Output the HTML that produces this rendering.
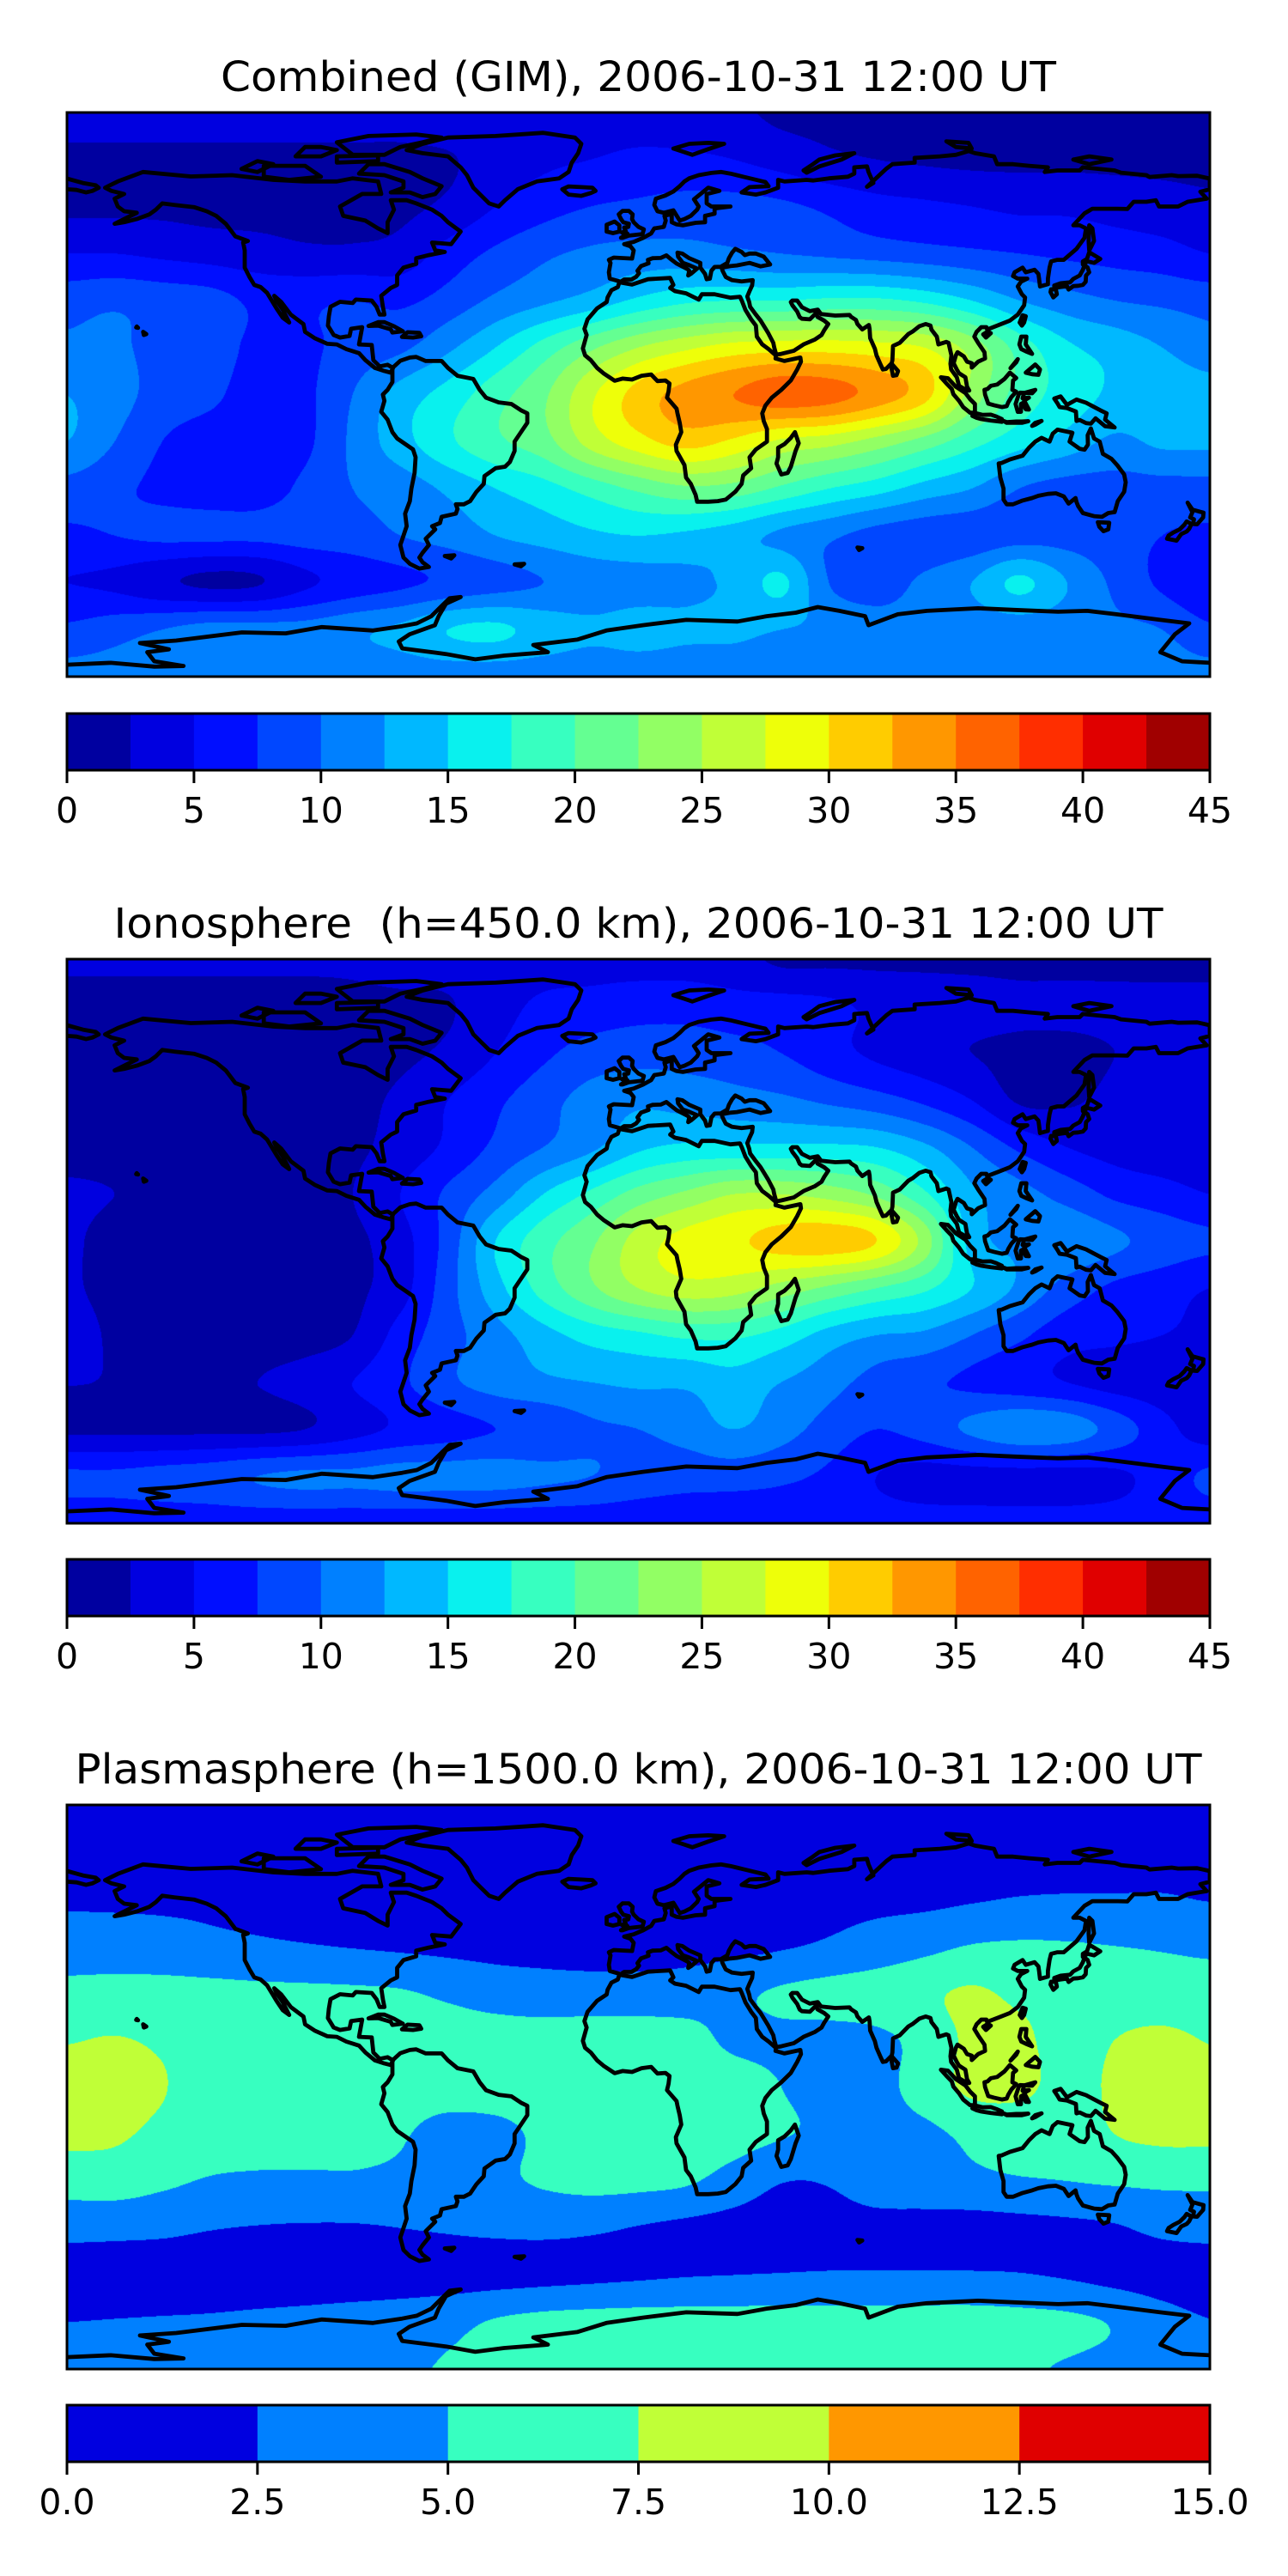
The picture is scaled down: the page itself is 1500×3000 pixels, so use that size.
<!DOCTYPE html>
<html><head><meta charset="utf-8">
<style>
html,body{margin:0;padding:0;background:#fff;}
#wrap{position:relative;width:1500px;height:3000px;overflow:hidden;background:#fff;}
canvas{position:absolute;left:78px;}
svg{position:absolute;left:0;top:0;}
</style></head>
<body>
<div id="wrap">
<canvas id="c0" width="1331" height="657" style="top:131px"></canvas>
<canvas id="c1" width="1331" height="657" style="top:1117px"></canvas>
<canvas id="c2" width="1331" height="657" style="top:2102px"></canvas>
<svg id="ov" width="1500" height="3000" xmlns="http://www.w3.org/2000/svg"></svg>
</div>
<script>
// ---------- data ----------
const gridLats=[90,75,60,45,30,15,0,-15,-30,-45,-60,-75,-90];
const gridLons=[-180,-165,-150,-135,-120,-105,-90,-75,-60,-45,-30,-15,0,15,30,45,60,75,90,105,120,135,150,165,180];
const gimGrid=[
[3.5,3.5,3.5,3.5,3.5,3.5,3.5,3.5,4,4,4,4,4,3.5,3,2,2,2,2,2,2,2,2,2,2],
[2,2,2,2,2,2,2,2,2.3,3.5,4.5,5,5.5,5.5,5,4,3,2.5,2.2,2,2,2,2,2,2],
[2,2,2,1.8,1.8,1.8,1.8,2,3,5,6.5,7.5,8,8.5,8.5,8,7,6,5.5,5,4.5,4.5,4,3.5,3],
[5,5,4.5,4,3.5,3,3,3.5,6,8,9.5,10.5,11,11,10.5,10,9.5,9,8.5,8,7.5,7,6.5,6,5],
[9,9.5,9,8.5,7,7,7.5,7,8.5,10.5,12,13.5,15.5,17,17.5,17.5,18,18,17,15,12.5,11,10,9.5,9],
[10.5,10.5,9,8.5,7,7,8.5,9.5,12,15,18.5,22,25,27,28.5,29,29,28.5,27.5,24,19,15.5,14,12.5,11],
[12.5,11,9,8,6.5,7,10,13.5,16,19,22,27,31,33.5,35,36.5,36,34,31,24,19,16.5,14.5,14,13.5],
[12.5,10,7.5,6.5,6.5,7,10.5,14,17,19.5,21.5,26,29,31,29.5,27,26,24,21.5,18.5,16,14,12,13,13],
[9,8,7,6.5,6.5,8,10,11,13,15,16.5,18.5,20.5,22,21.5,19.5,17.5,16,14,12.5,10,9,9,9,9],
[7,7.5,8,8,8,8.5,9,10,11,12.5,13.5,14.5,15,14.5,13.5,12,10.5,9,8.5,8.5,9,9,8.5,7.5,7],
[5,4.5,3,2,2.3,4.5,6,7,8,9,10,11,11.5,12,13,15.5,10,9,10.5,12.5,15.5,12.5,9.5,7,5],
[8,9,10,11,11,11,12,13,15,15.5,14,13,13.5,13,13,12.5,12,11,11,11,11,11,10.5,10,8],
[11,11,11,11,11,11,11,11,11,11,11,11,11,11,11,11,11,11,11,11,11,11,11,11,11]];
const ionoGrid=[
[3,3,3,3,3,3,3,3.5,3.5,4,4,4,4,4,3.5,2,2,2,2,2,2,2,2,2,2],
[1.5,1.5,1.5,1.5,1.5,1.5,1.8,2,2.3,4,5.5,6,6.5,6.5,6,6,5.5,4.5,4,3.5,3,3,3,3,3],
[1.5,1.5,1.5,1.5,1.5,1.5,1.5,2,3,5,7,8.5,9,9,8.5,7.5,6,4.5,3.5,2.5,2,2,2.5,3,3],
[1.5,1.5,1.5,1.5,1.5,1.5,1.8,3,5,7,9,11,12,11.5,11,10.5,9.5,8.5,7,5,2.2,2.2,3,3,3],
[1.5,1.5,1.5,1.5,1.5,1.5,2,3.5,5.5,8,10,12,14.5,15.5,15.5,15.5,15.5,15,13,10,7,5,4,3.5,3.5],
[3,2.5,2,1.5,1.5,1.5,2.5,5,8,11,15,18,21,23,25,25,24,22,18,13,11,9,7,6,5],
[3,1.5,1.5,1.5,1.5,1.5,2,4,8.5,15,19,22,26,28.5,29.5,31,31.5,30,24,14,12,12,10.5,9,8],
[3,1.5,1.5,1.5,1.5,1.5,2,4,9,14,18.5,22,25,26.5,26,24,22,20,18,15,12,9,7,6,5],
[4,2,1.5,1.5,1.5,1.5,2.5,6,9,11.5,14,16,17,18,18,16.5,14,12.5,12,10,8,6,5.5,5,4.5],
[2.6,2.4,2.2,2,2.5,3.5,5,7,9.5,11,12,12.5,13,13,14,12.5,11,9,8,7,6,5,4,3.5,3],
[2,2,2,2,2,2.5,4,5.5,6.5,7.5,8,9.5,10,11,12.5,11,9,7.5,8.5,10.5,12,11.5,9,6,3.5],
[8,8,8.5,9,10,10.5,10.5,11,11,11,10.5,10,9,8.5,8.5,8,7,5,4,4,4,4,4.5,6,8],
[6,6,6,6,6,6,6,6,6,6,6,6,6,6,6,6,6,6,6,6,6,6,6,6,6]];
const plasmaGrid=[
[1,1,1,1,1,1,1,1,1,1,1,1,1,1,1,1,1,1,1,1,1,1,1,1,1],
[1.5,1.5,1.5,1.5,1.5,1.5,1.5,1.5,1.5,1.5,1.5,1.5,1.5,1.5,1.5,1.5,1.5,1.5,1.5,1.5,1.5,1.5,1.5,1.5,1.5],
[2.2,2.2,2.2,2.2,2.1,2,2,2,2,2,2,2,2,2,2,2,2,2,2,2.3,2.6,2.7,2.7,2.7,2.4],
[3.6,3.5,3.3,3,2.8,2.6,2.4,2.2,2,1.8,1.7,1.6,1.6,1.7,1.9,2.3,2.8,3.5,4.3,5.1,5.3,5.2,5,4.8,4.6],
[5.8,6,6,5.8,5.6,5.5,5.4,5.2,4.6,4,3.7,3.6,3.6,3.8,4.5,5.3,5.8,6.2,7,7.8,7,6.5,6.3,6,5.8],
[7.4,7.6,7.2,6.4,6.2,6,6,6,6,6,6,6.2,6.2,5.8,4.6,4.5,4.2,4.5,5.8,8,8,6.5,7.5,8,7.4],
[8,8,7.6,6.5,6,5.8,5.8,5.9,6,6.2,6.3,6.3,6.3,6.2,6,5,4,4.3,6,8,8,6.8,7.8,8.2,8],
[8,7.8,7,6.3,6,5.8,5.5,5.2,4.2,4.3,5.5,6.2,6.5,6.5,6,5.2,4.5,4.3,4.5,5.5,6,6,7.5,8,8],
[6.1,6.2,5.5,4.8,4.6,4.6,4.7,4.5,4.2,4.5,5.3,5.8,5.7,5.3,4,2.6,2.7,4,4.2,4.5,4.8,5,5.3,5.5,5.5],
[3.3,3.2,3,2.6,2.4,2.3,2.3,2.5,2.7,2.9,3,2.8,2.4,2,1.7,1.5,1.5,1.6,1.6,1.6,1.8,2,2.3,3,3.3],
[1.3,1.3,1.3,1.3,1.3,1.3,1.3,1.4,1.5,1.6,1.8,2,2.2,2.4,2.5,2.6,2.7,2.7,2.7,2.7,2.6,2.3,1.8,1.5,1.3],
[2.5,2.6,2.7,2.8,3,3.2,3.5,3.8,4.3,5.2,5.7,5.9,6,6,6,6,6,6,6,6,5.8,5.5,4.8,3.5,2.6],
[4,4,4,4,4,4,4.2,4.6,5.2,5.5,5.6,5.6,5.6,5.6,5.6,5.6,5.6,5.6,5.6,5.5,5.3,4.8,4.3,4,4]];
const levels18=[0,2.5,5,7.5,10,12.5,15,17.5,20,22.5,25,27.5,30,32.5,35,37.5,40,42.5,45];
const colors18=['#0000a0','#0000e0','#000eff','#0047ff','#0080ff','#00b8ff','#09f1ee','#37ffc0','#64ff92','#92ff64','#c0ff37','#eeff09','#ffcc00','#ff9700','#ff6300','#ff2e00','#e00000','#a00000'];
const ticks18=['0','5','10','15','20','25','30','35','40','45'];
const levels6=[0,2.5,5,7.5,10,12.5,15];
const colors6=['#0000e0','#0080ff','#37ffc0','#c0ff37','#ff9700','#e00000'];
const ticks6=['0.0','2.5','5.0','7.5','10.0','12.5','15.0'];
const titles=['Combined (GIM), 2006-10-31 12:00 UT','Ionosphere\u00a0 (h=450.0 km), 2006-10-31 12:00 UT','Plasmasphere (h=1500.0 km), 2006-10-31 12:00 UT'];

const coastlines=[
[[-168,66],[-164,68],[-156,71],[-141,69.6],[-128,70],[-115,68.5],[-105,68],[-95,68],[-90,69],[-82,68],[-81,64],[-87,64],[-94,60],[-93,57],[-86,55.5],[-82,53],[-79,51.5],[-79,55],[-77,59],[-78,62],[-73,62],[-70,61],[-65,59],[-62,57],[-60,55],[-56,52],[-59,48],[-65,48.5],[-64,46],[-61,45.5],[-66,44.5],[-70,43.5],[-70,41.7],[-74,40.5],[-76,38],[-76,35],[-78,34],[-81,31.5],[-80.5,28],[-80,25.5],[-81.5,25.5],[-82.5,28],[-84,30],[-89,30.3],[-90,29.2],[-94,29.6],[-97,28],[-97.5,25],[-97.8,22],[-96,19],[-94,18.2],[-91,18.7],[-90.5,21],[-87,21.5],[-88,16],[-84,15.8],[-83.5,11],[-81.5,9],[-79,9.5],[-77.3,8.5],[-78,7],[-80,7.5],[-83,8.5],[-86,11],[-88,13.2],[-92,14.5],[-95,16],[-98,16.2],[-102,18],[-105,20],[-105.5,22.5],[-109.5,25.5],[-112.5,29.5],[-114.7,31.5],[-114,30],[-112,27],[-110,23],[-112,24.5],[-114,27.5],[-115.5,30],[-117,32.5],[-119,34.3],[-121,35],[-122.5,37.5],[-124,40.5],[-124,43],[-124,46],[-124.5,48.5],[-123,49],[-127,50.5],[-130,54.5],[-133,57],[-136,58.5],[-140,59.8],[-146,60.5],[-150,61],[-152,59],[-154,57.5],[-158,56],[-162,55],[-165,54.5],[-161,56.5],[-158,58],[-162,58.5],[-164,60],[-165,62.5],[-162,64],[-166,65],[-168,66]],
[[-73,78],[-68,80],[-60,82],[-45,82.5],[-30,83.5],[-20,82],[-18,80],[-19,77],[-21,74],[-22,71],[-25,69],[-32,68],[-38,65.5],[-42,62],[-44,60],[-47,61],[-50,64],[-52,66],[-54,70],[-56,72.5],[-60,76],[-68,77],[-73,78]],
[[-80,73.5],[-72,71],[-68,69],[-62,66.5],[-64,64],[-68,63],[-72,64.5],[-78,64.5],[-74,66],[-74,68],[-80,70],[-88,70.5],[-85,73.5],[-80,73.5]],
[[-90,76.5],[-80,76.5],[-75,79],[-68,80.5],[-62,82],[-70,83],[-85,82.5],[-95,80.5],[-90,76.5]],
[[-118,73],[-105,73],[-100,69.5],[-110,68.5],[-118,69.5],[-118,73]],
[[-125,72],[-120,74.5],[-115,73.5],[-120,71],[-125,72]],
[[-95,76],[-82,76.3],[-82,74.5],[-95,74],[-95,76]],
[[-100,79],[-95,78],[-100,76],[-108,76],[-105,79],[-100,79]],
[[-77.5,8.5],[-75,10.8],[-72,11.8],[-70,12],[-67,10.7],[-62,10.7],[-60,8.5],[-57,6],[-52,5],[-50,1.5],[-48,-1],[-44,-2.5],[-40,-3],[-37,-5],[-35,-6],[-35,-9],[-37,-12],[-39,-15],[-39,-18],[-40.5,-21.5],[-42,-23],[-45,-23.5],[-48.5,-26],[-48.7,-28.5],[-51,-31],[-53,-34],[-55,-35],[-57.5,-35],[-57,-36.5],[-57.5,-38],[-62,-39],[-62.5,-41],[-65,-42],[-64,-43],[-67,-46],[-66,-48],[-68,-50.5],[-69,-52],[-68,-53.5],[-66,-55],[-69,-55.5],[-72,-54],[-74,-52],[-75,-48],[-74,-45],[-73,-42],[-73.5,-38],[-72,-34],[-71.5,-30],[-70.5,-25],[-70.2,-20],[-71,-17.5],[-76,-14],[-77.5,-12],[-79,-8],[-81,-5.5],[-80,-2],[-80.5,0],[-79,1.5],[-77.5,4],[-77.5,6.5],[-77.5,8.5]],
[[-6,35.8],[-2,35.1],[3,36.8],[10,37.2],[11,35],[10,34],[11.5,33],[15,32.3],[19,30.3],[20,32],[24,32],[29,30.9],[32,31.2],[32.6,29.9],[33.7,27],[35.5,24],[37,22],[37.3,18.5],[39,16],[41,14.5],[43.3,12.5],[43.2,11.5],[46,10.7],[51,11.8],[51.2,10.5],[50,8],[48,4.5],[45,1.5],[42,-1],[40,-3.5],[39,-6],[39.5,-8.5],[40.5,-11],[40.5,-15],[37,-17.5],[35,-20],[35.5,-23.5],[33,-25.8],[32.5,-28.5],[30.5,-31],[27.5,-33.5],[25,-34],[22,-34.2],[18.5,-34.2],[18,-32],[16.5,-28.5],[15,-26.5],[14.5,-22.5],[12,-18],[11.8,-16],[13.5,-12],[13,-9],[12.3,-6],[12,-4.5],[9,-1],[9.5,1],[9.8,3.5],[8.5,4.5],[6,4.3],[4,6.4],[1,6],[-2,4.8],[-5,5.1],[-7.5,4.4],[-11,6.8],[-13,8.5],[-15,11],[-16.8,12.5],[-17.5,14.7],[-16.3,19],[-17,21],[-16,24],[-13,27.5],[-10,29.5],[-9.7,31],[-8.5,33.3],[-6.5,34.3],[-6,35.8]],
[[49.3,-12],[50.5,-15.5],[49.5,-18],[48,-23],[47,-25],[45,-25.5],[43.5,-22],[44,-20],[44,-17],[46,-15.8],[48,-13.8],[49.3,-12]],
[[-5.6,36],[-9,37],[-9.3,39],[-8.8,42],[-9.3,43],[-7.8,43.7],[-2,43.4],[-1.5,46],[-2.5,47.3],[-4.5,48],[-1.5,48.7],[1.5,50],[4,51.4],[5,53],[8,53.5],[8.6,55.5],[8.2,57],[10.5,57.7],[10.5,55],[12,54.3],[14,54],[18,54.8],[21,55],[21,57],[24,57.7],[24,59.4],[29,60],[23,60],[21.5,61],[21.5,64],[25.5,65],[22,66],[17.5,62.3],[19,60],[18.5,59],[16.5,57],[14.5,56],[13,55.5],[11,58.8],[8,58],[6,58.5],[5,60.5],[5.5,62.5],[8.5,63.5],[11,64.8],[13,66.5],[14.5,68],[16,69],[19,70],[23,70.7],[26,71],[29,70.5],[31,70],[33,69.5],[40,67.8],[41,66.5],[35,66.2],[32.5,64.5],[37,63.8],[40,64.5],[44,66],[44,68.5],[46,68],[53,68.5],[55,68.3],[60,69],[66,69.5],[68,70.5],[68,72.5],[72,72.8],[72.5,71],[74,67.5],[72,66.3],[78,72],[80,73.5],[87,74],[87,75.5],[95,76],[100,76.5],[104,77.7],[106,77],[112,76],[113,73.5],[118,73.5],[123,73],[129,72.5],[128,71],[132,71.5],[139,71.5],[140,72.5],[150,71.5],[152,70.8],[160,70],[161,69.4],[168,70],[170,69.7],[176,69.8],[180,68.9],[180,65.5],[177,64.7],[179,62.5],[173,61.5],[170,60],[164,60],[163,62],[160,61.5],[156,61.5],[154,59.2],[151,59.3],[143,59.3],[140.5,57.8],[137,54],[139,54],[141,53],[140.5,50],[138,46.5],[134,43],[132,43],[130,42.5],[129.5,40.5],[129,37],[129,35.2],[126.5,34.5],[126.2,37],[126,38.5],[124.8,39.8],[122,39],[121,40.5],[118.5,39],[118,37.8],[119.5,37],[122.5,37],[120.5,36],[119.5,34.5],[120.8,32],[121.8,31],[121.5,28.5],[119.5,25.5],[117,23.6],[113.5,22.2],[110.5,21],[110,20.3],[109.6,21.5],[108,21.5],[106.5,20],[105.8,18.5],[107,16.5],[109,13.5],[109.2,11.5],[107,10.5],[105,8.6],[105,10],[103.5,10.5],[102.5,12.2],[100.5,13.5],[100,12.5],[99.3,10],[100.3,8],[101,6.8],[103,5.5],[103.5,2.5],[104.2,1.3],[103.5,1.3],[101,2.8],[100.3,5.5],[98.5,8],[98.3,9.8],[98.6,12.5],[97.7,16.5],[97,16.8],[94.5,16],[94,18.5],[92.3,20.7],[92,22],[90.5,22.5],[88.5,21.8],[86.5,20.2],[85,19.3],[82.3,16.5],[80.2,15.5],[80,11],[79.8,10],[78,8.2],[77,8],[76.3,9.5],[75,12.5],[74.5,14.6],[73,18],[72.8,21],[72.6,22.2],[70.5,20.8],[69,22.5],[68.5,23.8],[67,24.8],[66.5,25.4],[62,25.2],[57.5,25.7],[56.5,27.1],[54,26.6],[51.5,27.9],[50,30],[48.5,30],[48,29.5],[48.5,28.5],[50,26.5],[50.8,24.7],[51.5,24.2],[54,24],[56,26],[56.4,24.8],[58.5,23.6],[59.8,22.5],[58.5,20.5],[57.7,19],[55.5,17.5],[52,16],[49,14],[45,13],[43.4,12.7],[42.8,15],[42.5,16.5],[40.8,19.8],[38.5,23.6],[37,25.5],[35.2,28],[34.9,29.5],[34.3,31.3],[35,33],[35.8,34.8],[36,36.5],[32.5,36.1],[29.5,36.5],[27.5,37.5],[26.5,39.5],[26.2,40.5],[29,41],[31,41.2],[35,42],[38.5,40.9],[41.5,41.5],[39.5,44],[37,45],[35,45],[33.5,44.5],[32.5,45.5],[30.5,46.5],[29.5,45.3],[28.5,43.5],[28,42],[26,40.8],[24,40.7],[23,39.5],[22.5,37],[21.5,36.8],[21,38.5],[19.5,40.5],[19.5,42],[16,43.5],[13.8,45],[12.3,45.3],[12.5,44],[14,42],[16,41.3],[18.5,40.2],[16.5,38.5],[15.7,38],[16,39.5],[15.5,40],[12,41.8],[10.5,43],[8.8,44.4],[7,43.6],[4.5,43.5],[3,43],[3.2,41.9],[0.8,41],[-0.3,39.5],[0.2,38.7],[-0.7,37.6],[-2.2,36.7],[-4.5,36.7],[-5.6,36]],
[[-180,68.9],[-175,67.5],[-171,66.8],[-170,66],[-172,65],[-174,64.5],[-177,65.3],[-180,65.5]],
[[-5,50],[-3,50.7],[1.3,51.2],[1.7,52.7],[0,53.5],[-1.5,55],[-2,56],[-1.8,57.5],[-3,58.6],[-5,58.6],[-6.2,57.5],[-5.5,56],[-4.8,55],[-3,54.5],[-3.2,53.5],[-4.5,53.3],[-4,52.2],[-5.2,51.7],[-3.5,51.4],[-5.5,50],[-5,50]],
[[-6,52],[-6,54],[-7.5,55.2],[-10,54.2],[-10,52],[-8,51.5],[-6,52]],
[[-24,65.5],[-22,66.4],[-18,66.2],[-14.5,66],[-13.5,65],[-15,64.3],[-18,63.4],[-22,63.8],[-24,65.5]],
[[11,78.5],[16,80],[22,80.3],[27,80],[22,78.3],[17,76.5],[14,77.5],[11,78.5]],
[[52,71.5],[55,73.5],[57,75],[62,76.3],[68,77],[64,75],[57,72.8],[53,70.8],[52,71.5]],
[[100,79],[105,78.5],[104,80.3],[97,80.8],[100,79]],
[[137,75],[142,73.5],[149,75],[142,76],[137,75]],
[[142,54],[143,53],[143.5,49],[142.5,47],[142,46],[141.8,49],[142,54]],
[[140,41.5],[141.5,42.5],[143.5,42],[145.5,43.3],[142,45.4],[141.3,43.3],[140,42.5],[140,41.5]],
[[140.5,41.3],[141.5,40.5],[142,39],[141,38],[140.9,36],[140,35],[138.5,34.7],[137,34.6],[135.5,33.5],[135,34.6],[133,34.3],[131,34],[131,34.8],[133,35.5],[136,35.8],[137,36.9],[139,38],[140,39.8],[140.5,41.3]],
[[130.7,31],[131.8,32],[131.5,33.5],[130,33.6],[129.8,32.7],[130.7,31]],
[[121,25.3],[122,25],[121.5,23],[120.8,22],[120.1,23],[121,25.3]],
[[108.6,19.2],[110,20.1],[111,19.6],[109.5,18.2],[108.6,19.2]],
[[120.6,18.5],[122.2,18.5],[122,16],[124,13],[122,13.8],[120.6,14.5],[120,16],[120.6,18.5]],
[[122,7],[125,9.6],[126.5,8],[126,6.3],[124,6.5],[122,7]],
[[117.2,8.4],[119.5,11.3],[119,10.3],[117.2,8.4]],
[[109,1.5],[110,1.8],[111,2.8],[113,3.2],[115.3,5],[117,7],[119,5.3],[118,4.5],[117.8,1.5],[119,0.9],[117.5,-0.8],[116.5,-2.5],[116,-3.7],[114.5,-4],[112,-3.4],[110.2,-2.9],[109.2,0],[109,1.5]],
[[95.3,5.5],[97.5,5.2],[100,2.5],[103,0.5],[104.5,-1.5],[106,-3],[106,-5.8],[104.5,-5.8],[102.3,-4],[101,-2],[99.2,0.1],[98.7,1.8],[97,3.6],[95.3,5.5]],
[[105.2,-6.8],[106,-5.9],[108.5,-6.5],[111,-6.4],[112.7,-7],[114.5,-7.8],[114.5,-8.7],[111,-8.3],[108,-7.8],[106.5,-7.4],[105.2,-6.8]],
[[119.5,-5.5],[120.5,-5.5],[120.5,-3],[121,-2.7],[122,-4.7],[123,-4.8],[121.5,-1.9],[123,-1],[121,-1.2],[121.5,0.5],[125,1.5],[124,0.4],[120.2,0.6],[119.8,0],[118.8,-3],[119.5,-5.5]],
[[131,-1.3],[133,-0.6],[135,-3.3],[138,-1.6],[141,-2.6],[145.5,-5],[147.5,-6],[147,-8],[150,-10.5],[147,-10.1],[144,-7.6],[142.5,-9.3],[141,-9.1],[139,-8.1],[138,-8.4],[137.8,-5.4],[135,-4.3],[132.7,-4],[132,-2.8],[131,-1.3]],
[[115,-8.4],[116,-8.8],[119,-8.6],[120.8,-8.6],[122.8,-8.5],[120.8,-9],[116,-9],[115,-8.4]],
[[124,-10],[125,-9],[127,-8.4],[125,-9.6],[124,-10]],
[[113.5,-22],[114,-26.5],[115,-30],[115,-33.5],[116,-35],[118,-35],[121,-33.8],[124,-33],[126,-32.3],[129,-31.7],[131.5,-31.5],[134,-32.5],[135.5,-34.8],[137.7,-33],[138,-34.3],[138.5,-35.6],[140,-37.8],[143.5,-38.8],[146,-39],[148,-37.8],[150,-37.5],[151,-34],[153,-31],[153.5,-28],[153,-25.5],[150.8,-22.5],[149,-20.5],[146.3,-18.9],[145.3,-15],[143.5,-14],[142.5,-10.8],[141.5,-13],[141.6,-16],[140.5,-17.6],[139,-17.3],[135.8,-15],[136.7,-12.2],[133,-11.4],[132,-11.2],[130.5,-12.5],[129.5,-15],[127,-13.8],[125,-15],[123,-17],[121,-19.5],[117,-20.7],[114.5,-21.8],[113.5,-22]],
[[144.7,-40.7],[148.3,-40.9],[148,-43],[146.5,-43.6],[145.2,-42.2],[144.7,-40.7]],
[[173,-34.5],[174.5,-36.7],[178,-37.7],[177.9,-39.2],[176,-41.4],[174.7,-41.3],[175,-39.8],[173.8,-39.2],[174.5,-37.5],[173,-34.5]],
[[172.7,-40.5],[174.2,-41.3],[173.5,-42.8],[172.7,-43.7],[171,-44.5],[169.5,-46.6],[166.5,-46],[167,-45],[168.5,-44],[170.5,-43],[172,-41.5],[172.7,-40.5]],
[[79.8,9.8],[81.8,7.5],[81.3,6.2],[80.2,6],[79.8,8],[79.8,9.8]],
[[-85,21.9],[-82,23.1],[-80,23.1],[-77,21.8],[-74.2,20.2],[-77.5,19.8],[-78,20.8],[-82,22],[-85,21.9]],
[[-74.5,18.4],[-72.7,19.9],[-69,19.7],[-68.4,18.6],[-71,18.2],[-74.5,18.4]],
[[-156,20],[-155,19.3],[-155.8,19],[-156,20]],
[[-158,21.7],[-157.6,21.3],[-158.2,21.4],[-158,21.7]],
[[-61,-51.5],[-58,-51.3],[-59,-52.3],[-61,-51.5]],
[[-39,-54.2],[-36,-54],[-37,-54.8],[-39,-54.2]],
[[69,-48.8],[70.5,-49],[69.5,-49.6],[69,-48.8]],
[[-180,-86.2],[-166.2,-85.6],[-152.5,-86.8],[-143.3,-86.6],[-152.5,-85.1],[-154.7,-82.2],[-147.9,-81.3],[-157,-79.3],[-145.6,-78.5],[-124.9,-75.9],[-111.1,-76.2],[-99.7,-74.2],[-83.6,-75.3],[-74.4,-73.9],[-69.8,-73],[-65.2,-70.7],[-61.8,-67.3],[-59.5,-65],[-56,-64.6],[-60.6,-66.7],[-62.9,-70.7],[-64.1,-73.6],[-72.1,-76.5],[-75.5,-78.8],[-74.4,-81],[-60.6,-82.8],[-51.4,-84.5],[-42.3,-83.3],[-28.5,-82.2],[-33.1,-79.9],[-19.3,-78.2],[-10.1,-75.3],[1.4,-73.6],[15.1,-71.9],[31.2,-72.4],[40.4,-70.7],[49.6,-69.6],[56.5,-67.8],[63.3,-69],[71.4,-70.7],[72.5,-73.6],[81.7,-70.1],[90.9,-69],[107,-68.2],[118.4,-68.7],[132.2,-69.3],[141.4,-69],[150.6,-70.1],[164.4,-71.9],[173.5,-73],[169,-76.5],[164.4,-82.2],[171.2,-85.1],[180,-85.6]]
];

// ---------- layout ----------
const MX=78, MW=1331, MH=657;
const mapTops=[131,1117,2102];
const cbTops=[831,1816,2801];
const CBH=66;
const NS='http://www.w3.org/2000/svg';
const svg=document.getElementById('ov');
function lonX(lon){return MX+(lon+180)/360*MW;}
function latY(lat,top){return top+(90-lat)/180*MH;}
function mk(tag,attrs){const e=document.createElementNS(NS,tag);for(const k in attrs)e.setAttribute(k,attrs[k]);return e;}

function cr(p0,p1,p2,p3,t){return p1+0.5*t*(p2-p0+t*(2*p0-5*p1+4*p2-p3+t*(3*(p1-p2)+p3-p0)));}
function sampleGrid(g,lat,lon){
  const gy=(90-lat)/15, gx=(lon+180)/15;
  const iy=Math.floor(gy), ix=Math.floor(gx), ty=gy-iy, tx=gx-ix;
  const rows=[];
  for(let m=-1;m<=2;m++){
    const r=g[Math.min(12,Math.max(0,iy+m))];
    const c=k=>r[Math.min(24,Math.max(0,ix+k))];
    rows.push(cr(c(-1),c(0),c(1),c(2),tx));
  }
  return cr(rows[0],rows[1],rows[2],rows[3],ty);
}
function hexRGB(h){return [parseInt(h.substr(1,2),16),parseInt(h.substr(3,2),16),parseInt(h.substr(5,2),16)];}
function drawField(id,grid,levels,colors){
  const cv=document.getElementById(id), ctx=cv.getContext('2d');
  const img=ctx.createImageData(MW,MH), d=img.data;
  const rgb=colors.map(hexRGB), step=levels[1]-levels[0], n=colors.length;
  for(let py=0;py<MH;py++){
    const lat=90-(py+0.5)/MH*180;
    for(let px=0;px<MW;px++){
      const lon=(px+0.5)/MW*360-180;
      const v=sampleGrid(grid,lat,lon);
      let k=Math.floor((v-levels[0])/step); if(k<0)k=0; if(k>n-1)k=n-1;
      const o=(py*MW+px)*4, c=rgb[k];
      d[o]=c[0];d[o+1]=c[1];d[o+2]=c[2];d[o+3]=255;
    }
  }
  ctx.putImageData(img,0,0);
}
drawField('c0',gimGrid,levels18,colors18);
drawField('c1',ionoGrid,levels18,colors18);
drawField('c2',plasmaGrid,levels6,colors6);

const panelNames=['gim','ionosphere','plasmasphere'];
const titleWidths=[973,1222,1312];
const defs=mk('defs',{});svg.appendChild(defs);
for(let p=0;p<3;p++){
  const top=mapTops[p];
  const cp=mk('clipPath',{id:'clip'+p});
  cp.appendChild(mk('rect',{x:MX,y:top,width:MW,height:MH}));
  defs.appendChild(cp);
  const t=mk('text',{x:743.5,y:top-25,'text-anchor':'middle','font-family':'DejaVu Sans, Liberation Sans, sans-serif','font-size':48,fill:'#000',textLength:titleWidths[p],lengthAdjust:'spacingAndGlyphs'});
  t.textContent=titles[p];
  
  
  svg.appendChild(t);
  const g=mk('g',{'clip-path':'url(#clip'+p+')',fill:'none',stroke:'#000','stroke-width':4.8,'stroke-linejoin':'round','stroke-linecap':'round'});
  
  
  coastlines.forEach(line=>{
    const dstr=line.map((q,i)=>(i?'L':'M')+lonX(q[0]).toFixed(1)+' '+latY(q[1],top).toFixed(1)).join('');
    const path=mk('path',{d:dstr});
    
    
    g.appendChild(path);
  });
  svg.appendChild(g);
  const fr=mk('rect',{x:MX,y:top,width:MW,height:MH,fill:'none',stroke:'#000','stroke-width':3});
  
  
  svg.appendChild(fr);

  const levels=p<2?levels18:levels6, colors=p<2?colors18:colors6, ticks=p<2?ticks18:ticks6;
  const cbt=cbTops[p], vmin=levels[0], vmax=levels[levels.length-1];
  const cx=v=>MX+(v-vmin)/(vmax-vmin)*MW;
  const cbg=mk('g',{});
  
  
  for(let i=0;i<colors.length;i++){
    const r=mk('rect',{x:cx(levels[i]),y:cbt,width:cx(levels[i+1])-cx(levels[i])+0.5,height:CBH,fill:colors[i]});
    
    
    cbg.appendChild(r);
  }
  cbg.appendChild(mk('rect',{x:MX,y:cbt,width:MW,height:CBH,fill:'none',stroke:'#000','stroke-width':3}));
  ticks.forEach(lb=>{
    const x=cx(parseFloat(lb));
    cbg.appendChild(mk('line',{x1:x,y1:cbt+CBH,x2:x,y2:cbt+CBH+15,stroke:'#000','stroke-width':3}));
    const tt=mk('text',{x:x,y:cbt+CBH+61,'text-anchor':'middle','font-family':'DejaVu Sans, Liberation Sans, sans-serif','font-size':41,fill:'#000'});
    tt.textContent=lb;
    
    
    cbg.appendChild(tt);
  });
  svg.appendChild(cbg);
}
</script>
</body></html>
